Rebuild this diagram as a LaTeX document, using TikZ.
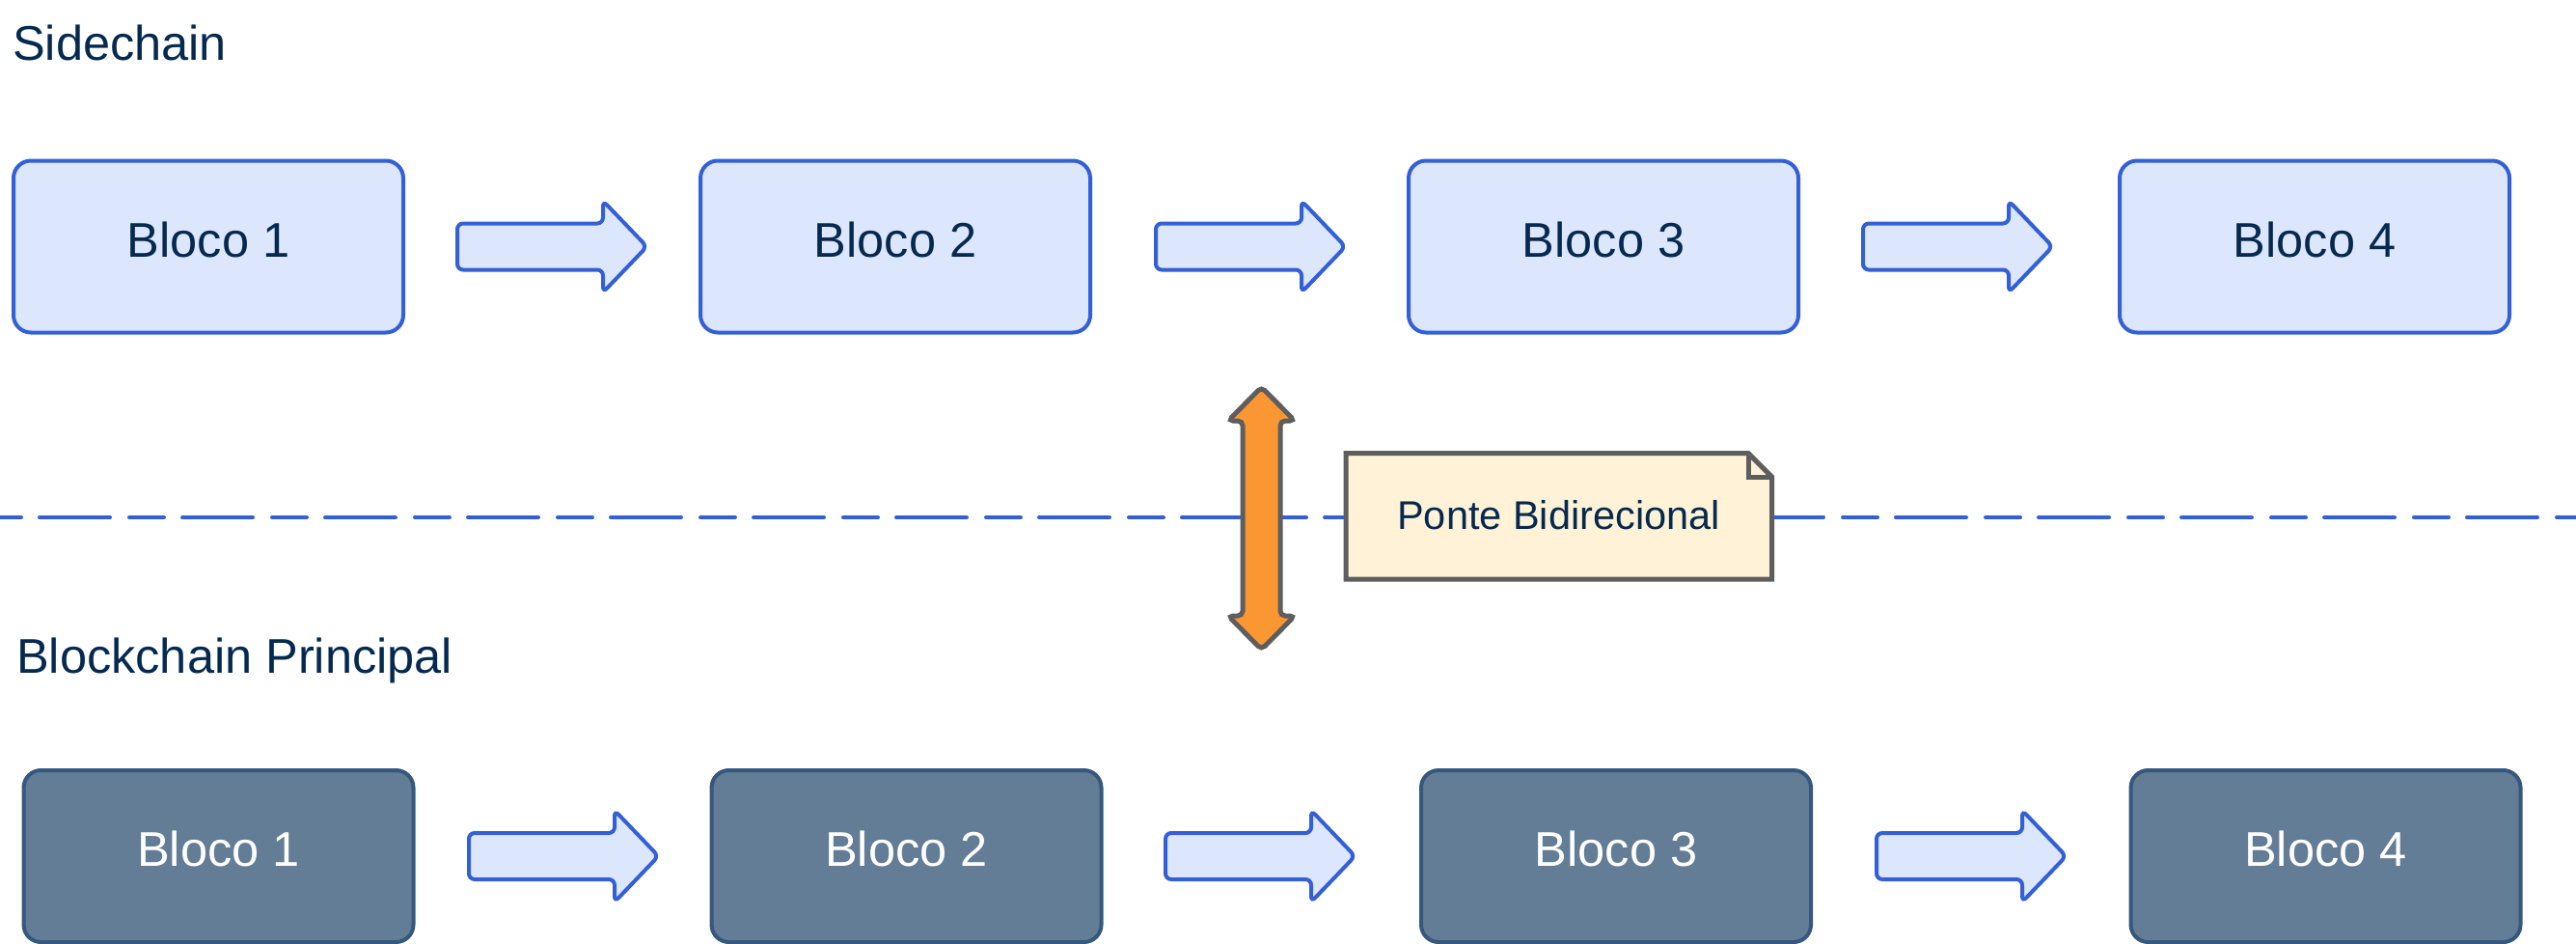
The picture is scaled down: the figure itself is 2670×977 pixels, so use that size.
\documentclass[tikz,border=0pt]{standalone}
\usepackage{fontspec}
\setmainfont{Liberation Sans}
\usetikzlibrary{calc}
\definecolor{navy}{HTML}{06294F}
\definecolor{bfill}{HTML}{DCE6FC}
\definecolor{bstroke}{HTML}{3360D6}
\definecolor{dfill}{HTML}{647D96}
\definecolor{dstroke}{HTML}{36577E}
\definecolor{orng}{HTML}{FA9733}
\definecolor{gstroke}{HTML}{5E5E5E}
\definecolor{nfill}{HTML}{FFF2D7}
\newcommand\blockarrow[1]{%
  \draw[barrow, shift={(#1)}] (2,-24) -- (153,-24) -- (153,-47.5) -- (198.5,0)
    -- (153,47.5) -- (153,24) -- (2,24) -- cycle;}
\begin{document}
\begin{tikzpicture}[x=1pt,y=-1pt,
  blockbase/.style={line width=4pt, rounded corners=18pt, minimum width=404pt,
    minimum height=178pt, inner sep=0pt, font=\fontsize{50.5}{60}\selectfont, text depth=15.5pt},
  sblock/.style={blockbase, draw=bstroke, fill=bfill, text=navy},
  mblock/.style={blockbase, draw=dstroke, fill=dfill, text=white},
  barrow/.style={draw=bstroke, fill=bfill, line width=4pt, rounded corners=6pt},
  sepline/.style={draw=bstroke, line width=4pt, line cap=round,
    dash pattern=on 73pt off 20pt on 36pt off 19pt, dash phase=107pt},
  bridge/.style={draw=gstroke, fill=orng, line width=5pt, rounded corners=5pt},
  notebox/.style={draw=gstroke, fill=nfill, line width=5pt, line join=miter},
  notefold/.style={draw=gstroke, line width=5pt, line join=miter},
  notetext/.style={text=navy, inner sep=0pt, font=\fontsize{41.5}{50}\selectfont},
  title/.style={text=navy, inner sep=0pt, anchor=base west, font=\fontsize{50.5}{60}\selectfont}
]
\useasboundingbox (0,0) rectangle (2670,977);

% separator
\coordinate (dl) at (0,536);
\coordinate (dr) at (2670,536);
\draw[sepline] (dl) -- (dr);

% titles
\node[title] (tside) at (13,62) {Sidechain};
\node[title] (tmain) at (17,697) {Blockchain Principal};

% sidechain blocks
\node[sblock] (s1) at (216,255.5) {Bloco 1};
\node[sblock] (s2) at (928,255.5) {Bloco 2};
\node[sblock] (s3) at (1662,255.5) {Bloco 3};
\node[sblock] (s4) at (2399,255.5) {Bloco 4};

% main chain blocks
\node[mblock] (m1) at (226.5,887) {Bloco 1};
\node[mblock] (m2) at (939.5,887) {Bloco 2};
\node[mblock] (m3) at (1675,887) {Bloco 3};
\node[mblock] (m4) at (2410.5,887) {Bloco 4};

% block arrows
\coordinate (sa1) at (472,255.5);
\coordinate (sa2) at (1196,255.5);
\coordinate (sa3) at (1929,255.5);
\coordinate (ma1) at (484,887);
\coordinate (ma2) at (1206,887);
\coordinate (ma3) at (1943,887);
\blockarrow{sa1}\blockarrow{sa2}\blockarrow{sa3}
\blockarrow{ma1}\blockarrow{ma2}\blockarrow{ma3}

% bidirectional bridge arrow
\draw[bridge] (1307.5,401) -- (1342,436) -- (1327,436) -- (1327,638)
  -- (1342,638) -- (1307.5,673) -- (1273,638) -- (1288,638)
  -- (1288,436) -- (1273,436) -- cycle;

% note
\draw[notebox] (1395,469.5) -- (1812,469.5) -- (1836.5,494) -- (1836.5,600) -- (1395,600) -- cycle;
\draw[notefold] (1812,469.5) -- (1812,494) -- (1836.5,494);
\node[notetext] (pb) at (1615.5,533.5) {Ponte Bidirecional};
\end{tikzpicture}
\end{document}
